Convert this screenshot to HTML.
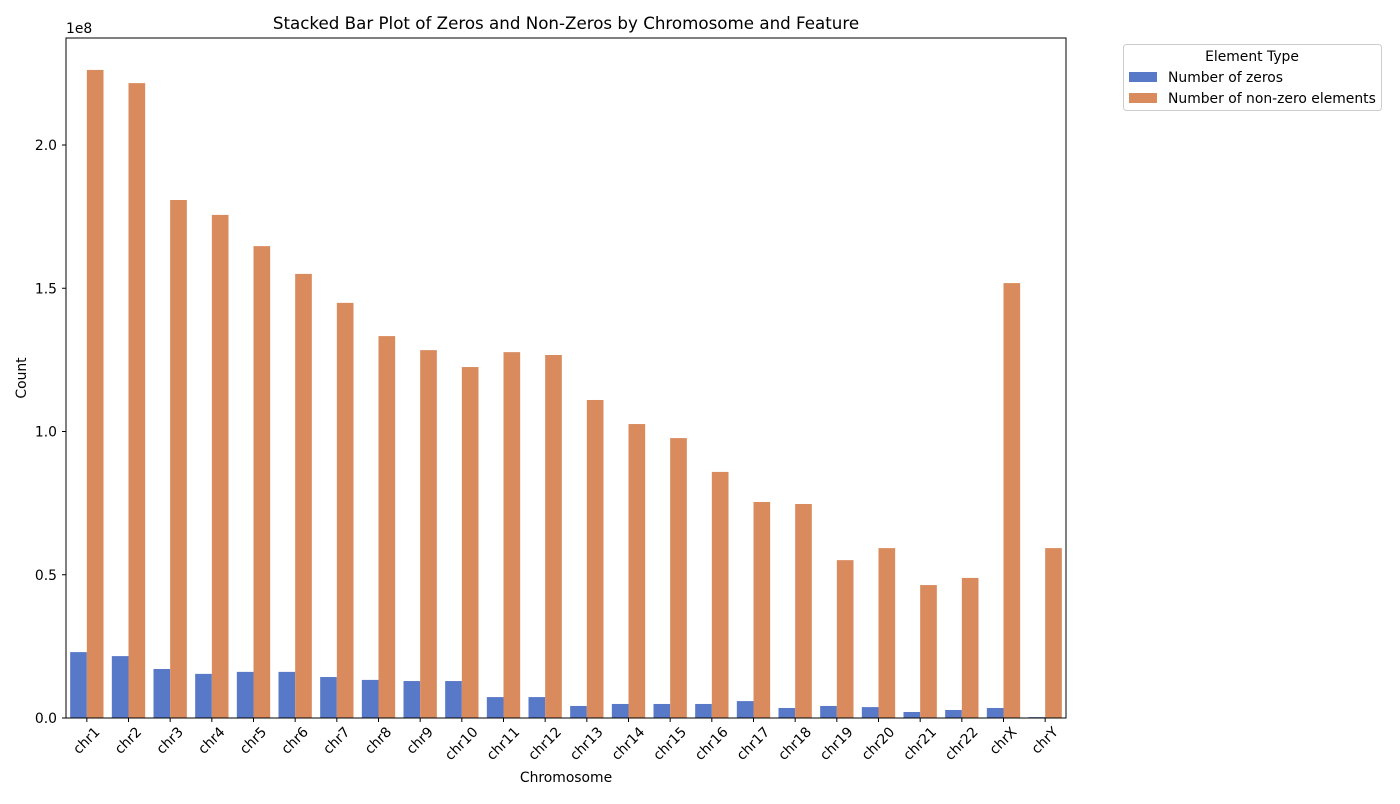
<!DOCTYPE html>
<html><head><meta charset="utf-8"><style>
body{margin:0;background:#fff;font-family:"DejaVu Sans","Liberation Sans",sans-serif;}
svg text{font-family:"DejaVu Sans","Liberation Sans",sans-serif;}
</style></head><body>
<svg id="chart" width="1400" height="800" xmlns="http://www.w3.org/2000/svg">
<rect width="1400" height="800" fill="#fff"/>
<text x="566" y="29" font-size="16.7" text-anchor="middle">Stacked Bar Plot of Zeros and Non-Zeros by Chromosome and Feature</text>
<g id="bars"></g>
<g id="axes"></g>
<text x="566" y="782" font-size="13.9" text-anchor="middle">Chromosome</text>
<text transform="translate(26,378) rotate(-90)" font-size="13.9" text-anchor="middle">Count</text>
<text x="66" y="33" font-size="13.9">1e8</text>
<g>
<rect x="1123.5" y="44.5" width="258" height="66" rx="3" fill="#fff" stroke="#ccc"/>
<text x="1252" y="61" font-size="13.9" text-anchor="middle">Element Type</text>
<g><rect x="1129" y="72" width="28" height="10" fill="#5878c8"/><text x="1168" y="82" font-size="13.9">Number of zeros</text></g>
<g><rect x="1129" y="93" width="28" height="10" fill="#d98b5e"/><text x="1168" y="103" font-size="13.9">Number of non-zero elements</text></g>
</g>
</svg>
<script>
const categories=["chr1","chr2","chr3","chr4","chr5","chr6","chr7","chr8","chr9","chr10","chr11","chr12","chr13","chr14","chr15","chr16","chr17","chr18","chr19","chr20","chr21","chr22","chrX","chrY"];
const zeros=[0.230,0.216,0.171,0.154,0.161,0.161,0.143,0.133,0.129,0.129,0.073,0.073,0.042,0.049,0.049,0.049,0.059,0.035,0.042,0.038,0.021,0.028,0.035,0.003];
const nonZeros=[2.262,2.216,1.808,1.756,1.647,1.550,1.449,1.333,1.284,1.225,1.277,1.267,1.110,1.026,0.977,0.859,0.754,0.747,0.551,0.593,0.464,0.489,1.518,0.593];
const yTicks=[0,0.5,1.0,1.5,2.0];
const yTickLabels=["0.0","0.5","1.0","1.5","2.0"];
const L=66,R=1066,T=38,B=718,yMax=(B-T)/286.5;
const ns="http://www.w3.org/2000/svg";
const bw=(R-L)/categories.length;
function xc(i){return L+bw*(i+0.5);}
function y(v){return B-(v/yMax)*(B-T);}
function mk(t,a,p){const e=document.createElementNS(ns,t);for(const k in a)e.setAttribute(k,a[k]);p.appendChild(e);return e;}
const bars=document.getElementById('bars'),axes=document.getElementById('axes');
const w=bw*0.4;
categories.forEach((c,i)=>{
 const b1=mk('rect',{x:xc(i)-w,y:y(zeros[i]),width:w,height:B-y(zeros[i]),fill:'#5878c8'},bars);
 
 
 const b2=mk('rect',{x:xc(i),y:y(nonZeros[i]),width:w,height:B-y(nonZeros[i]),fill:'#d98b5e'},bars);
 
 
 mk('line',{x1:xc(i),x2:xc(i),y1:B,y2:B+4,stroke:'#000'},axes);
 const t=mk('text',{x:0,y:0,'font-size':13.9,'text-anchor':'middle','dominant-baseline':'central'},axes);
 t.textContent=c;
 
 
 const len=t.getComputedTextLength();
 const half=(len+14)/(2*Math.SQRT2);
 const cy=B+7+half;
 t.setAttribute('x',xc(i));t.setAttribute('y',cy);
 t.setAttribute('transform',`rotate(-45 ${xc(i)} ${cy})`);
});
yTicks.forEach((v,i)=>{
 mk('line',{x1:L-4,x2:L,y1:y(v),y2:y(v),stroke:'#000'},axes);
 const t=mk('text',{x:L-9,y:y(v)+5,'font-size':13.9,'text-anchor':'end'},axes);
 t.textContent=yTickLabels[i];
 
 
});
const fr=mk('rect',{x:L,y:T,width:R-L,height:B-T,fill:'none',stroke:'#000','stroke-width':1},axes);


</script>
</body></html>
